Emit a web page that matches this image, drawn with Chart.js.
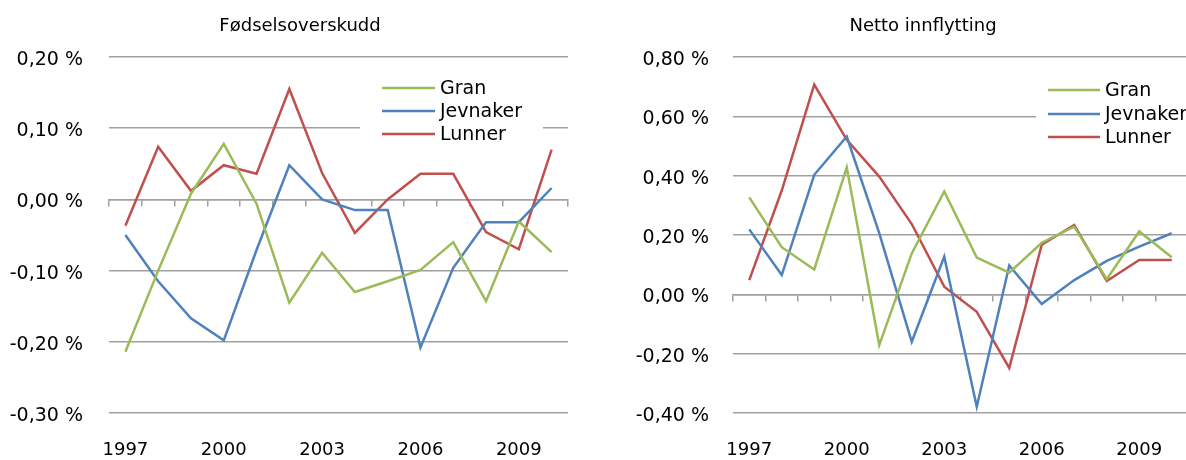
<!DOCTYPE html>
<html>
<head>
<meta charset="utf-8">
<script src="https://cdn.jsdelivr.net/npm/chart.js@4.4.1/dist/chart.umd.min.js"></script>
<style>
  html, body { margin: 0; padding: 0; width: 1186px; height: 460px; overflow: hidden; background: #fff; }
  canvas { position: absolute; top: 0; }
  #c1 { left: 0; }
  #c2 { left: 590px; }
</style>
</head>
<body>
<canvas id="c1" width="600" height="460"></canvas>
<canvas id="c2" width="666" height="460"></canvas>
<script>
const years = ['1997','1998','1999','2000','2001','2002','2003','2004','2005','2006','2007','2008','2009','2010'];
const seriesNames = ['Gran', 'Jevnaker', 'Lunner'];

const fodselGran     = [-0.214, -0.100, 0.008, 0.078, -0.006, -0.145, -0.075, -0.130, -0.115, -0.099, -0.060, -0.143, -0.031, -0.074];
const fodselJevnaker = [-0.050, -0.115, -0.167, -0.198, -0.071, 0.048, 0.000, -0.015, -0.015, -0.208, -0.096, -0.032, -0.032, 0.016];
const fodselLunner   = [-0.037, 0.074, 0.012, 0.048, 0.036, 0.155, 0.037, -0.047, 0.000, 0.036, 0.036, -0.046, -0.070, 0.070];

const nettoGran      = [0.327, 0.159, 0.084, 0.428, -0.171, 0.138, 0.347, 0.124, 0.073, 0.174, 0.228, 0.051, 0.212, 0.125];
const nettoJevnaker  = [0.219, 0.065, 0.403, 0.532, 0.206, -0.160, 0.127, -0.379, 0.097, -0.033, 0.048, 0.113, 0.161, 0.206];
const nettoLunner    = [0.048, 0.350, 0.707, 0.521, 0.397, 0.237, 0.026, -0.059, -0.248, 0.167, 0.234, 0.045, 0.116, 0.116];

const fodselTicks = { min: -0.3, max: 0.2, step: 0.1 };
const nettoTicks  = { min: -0.4, max: 0.8, step: 0.2 };

const colors = ['#9BBB59', '#4F81BD', '#C0504D'];
const FONT = "'DejaVu Sans', sans-serif";
const GRID = '#a0a0a0';

function fmt(v) {
  if (Math.abs(v) < 1e-9) v = 0;
  return v.toFixed(2).replace('.', ',') + ' %';
}

const insideLegend = {
  id: 'insideLegend',
  beforeDatasetsDraw(chart, args, opts) {
    const ctx = chart.ctx;
    ctx.save();
    ctx.fillStyle = '#ffffff';
    ctx.fillRect(opts.box[0], opts.box[1], opts.box[2], opts.box[3]);
    ctx.font = '19px ' + FONT;
    ctx.textBaseline = 'middle';
    ctx.textAlign = 'left';
    chart.data.datasets.forEach((ds, i) => {
      const y = opts.rows[i];
      ctx.strokeStyle = ds.borderColor;
      ctx.lineWidth = 2.5;
      ctx.beginPath();
      ctx.moveTo(opts.x0, y);
      ctx.lineTo(opts.x1, y);
      ctx.stroke();
      ctx.fillStyle = '#000';
      ctx.fillText(ds.label, opts.tx, y + 1);
    });
    ctx.restore();
  }
};

function makeChart(id, title, data, t, plotLeft, padRight, labelPad, legendOpts) {
  const datasets = data.map((d, i) => ({
    label: seriesNames[i],
    data: d,
    borderColor: colors[i],
    backgroundColor: colors[i],
    borderWidth: 2.5,
    pointRadius: 0,
    tension: 0,
    fill: false,
    yAxisID: 'y'
  }));
  return new Chart(document.getElementById(id), {
    type: 'line',
    data: { labels: years, datasets },
    plugins: [insideLegend],
    options: {
      responsive: false,
      animation: false,
      devicePixelRatio: 1,
      layout: { padding: 0 },
      plugins: {
        legend: { display: false },
        tooltip: { enabled: false },
        title: {
          display: true,
          text: title,
          color: '#000',
          font: { family: FONT, size: 18, weight: 'normal', lineHeight: 1.2 },
          padding: { top: 16, bottom: 19.4 }
        },
        insideLegend: legendOpts
      },
      scales: {
        x: {
          type: 'category',
          offset: true,
          position: 'bottom',
          grid: { display: false, drawTicks: false },
          border: { display: false },
          ticks: {
            autoSkip: false,
            maxRotation: 0,
            padding: 27,
            color: '#000',
            font: { family: FONT, size: 18 },
            callback: function (v, i) { return i % 3 === 0 ? years[i] : ''; }
          },
          afterFit: s => { s.height = 47; }
        },
        x2: {
          type: 'category',
          offset: true,
          position: { y: 0 },
          grid: { offset: true, drawOnChartArea: false, drawTicks: true, tickLength: 6, color: GRID, lineWidth: 1.5 },
          border: { display: true, color: GRID, width: 1.5 },
          ticks: { display: false }
        },
        y: {
          min: t.min,
          max: t.max,
          grid: { color: GRID, lineWidth: 1.5, drawTicks: false },
          border: { display: false },
          ticks: {
            stepSize: t.step,
            padding: labelPad,
            labelOffset: 3,
            color: '#000',
            font: { family: FONT, size: 19 },
            callback: v => fmt(v)
          },
          afterFit: s => { s.width = plotLeft; }
        },
        yPad: {
          type: 'linear',
          position: 'right',
          display: true,
          grid: { display: false, drawTicks: false },
          border: { display: false },
          ticks: { display: false },
          afterFit: s => { s.width = padRight; }
        }
      }
    }
  });
}

makeChart('c1', 'Fødselsoverskudd', [fodselGran, fodselJevnaker, fodselLunner], fodselTicks, 109, 32, 26,
  { box: [360, 72, 183, 76], x0: 382, x1: 435, tx: 440, rows: [88, 111, 134] });
makeChart('c2', 'Netto innflytting', [nettoGran, nettoJevnaker, nettoLunner], nettoTicks, 143, 68, 24,
  { box: [446, 74, 220, 78], x0: 458, x1: 510, tx: 515, rows: [90, 114, 137] });
</script>
</body>
</html>
